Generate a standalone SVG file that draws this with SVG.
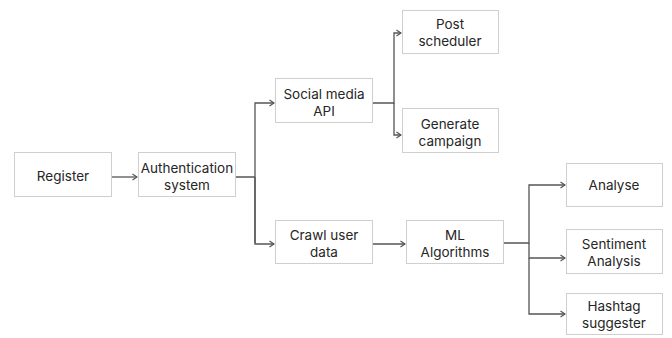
<svg xmlns="http://www.w3.org/2000/svg" width="672" height="338" viewBox="0 0 672 338">
<style>
.box{fill:#fff;stroke:#cfcfcf;stroke-width:1}
text{font-family:Inter,"Liberation Sans",sans-serif;font-size:13.5px;fill:#262626;text-anchor:middle}
.ln{fill:none;stroke:#555;stroke-width:1.3}
</style>
<defs>
<marker id="ah" viewBox="0 0 6 8" refX="5.5" refY="4" markerWidth="6" markerHeight="8" markerUnits="userSpaceOnUse" orient="auto">
<path d="M1,1 L5.5,4 L1,7" fill="none" stroke="#555" stroke-width="1.2"/>
</marker>
</defs>
<rect width="672" height="338" fill="#fff"/>
<g id="connectors">
<path class="ln" d="M111,177 H137" marker-end="url(#ah)"/>
<path class="ln" d="M235,177 H255 M255,243 V103 H274" marker-end="url(#ah)"/>
<path class="ln" d="M255,177 V244 H274" marker-end="url(#ah)"/>
<path class="ln" d="M372,103 H394 V33 H401" marker-end="url(#ah)"/>
<path class="ln" d="M394,103 V135 H401" marker-end="url(#ah)"/>
<path class="ln" d="M372,244 H405" marker-end="url(#ah)"/>
<path class="ln" d="M503,243 H529 V185 H565" marker-end="url(#ah)"/>
<path class="ln" d="M529,243 V258 H565" marker-end="url(#ah)"/>
<path class="ln" d="M529,258 V314 H565" marker-end="url(#ah)"/>
</g>
<g id="register"><rect class="box" x="14.5" y="152.5" width="97" height="44"/><text x="63" y="181">Register</text></g>
<g id="auth"><rect class="box" x="138.5" y="152.5" width="97" height="44"/><text x="187" y="173">Authentication</text><text x="187" y="190">system</text></g>
<g id="social"><rect class="box" x="275.5" y="78.5" width="97" height="44"/><text x="324" y="99">Social media</text><text x="324" y="116">API</text></g>
<g id="post"><rect class="box" x="402.5" y="10.5" width="96" height="43"/><text x="450" y="29">Post</text><text x="450" y="46">scheduler</text></g>
<g id="generate"><rect class="box" x="402.5" y="108.5" width="96" height="44"/><text x="450" y="129">Generate</text><text x="450" y="146">campaign</text></g>
<g id="crawl"><rect class="box" x="275.5" y="220.5" width="97" height="43"/><text x="324" y="240">Crawl user</text><text x="324" y="257">data</text></g>
<g id="ml"><rect class="box" x="406.5" y="220.5" width="97" height="43"/><text x="455" y="240">ML</text><text x="455" y="257">Algorithms</text></g>
<g id="analyse"><rect class="box" x="566.5" y="163.5" width="96" height="43"/><text x="614" y="190">Analyse</text></g>
<g id="sentiment"><rect class="box" x="566.5" y="229.5" width="96" height="44"/><text x="614" y="249">Sentiment</text><text x="614" y="266">Analysis</text></g>
<g id="hashtag"><rect class="box" x="566.5" y="293.5" width="96" height="41"/><text x="614" y="311">Hashtag</text><text x="614" y="328">suggester</text></g>
</svg>
